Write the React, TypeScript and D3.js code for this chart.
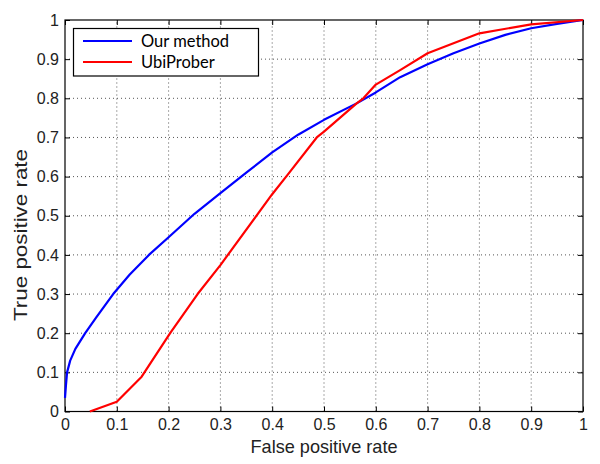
import React, { useEffect, useRef } from 'react';
import * as d3 from 'd3';

// ROC points: [false positive rate, true positive rate]
const ourMethod: [number, number][] = [
  [0, 0.035], [0.002, 0.07], [0.004, 0.1], [0.01, 0.13], [0.02, 0.16],
  [0.039, 0.2], [0.06, 0.24], [0.093, 0.3], [0.125, 0.35], [0.162, 0.4],
  [0.2, 0.445], [0.25, 0.505], [0.3, 0.558], [0.35, 0.61], [0.4, 0.662],
  [0.45, 0.707], [0.5, 0.745], [0.563, 0.787], [0.6, 0.815], [0.647, 0.854],
  [0.7, 0.887], [0.75, 0.915], [0.8, 0.94], [0.85, 0.962], [0.9, 0.979],
  [0.95, 0.99], [1, 1],
];

const ubiProber: [number, number][] = [
  [0.048, 0], [0.1, 0.025], [0.148, 0.089], [0.203, 0.2], [0.256, 0.3],
  [0.3, 0.374], [0.4, 0.555], [0.43, 0.605], [0.486, 0.7], [0.5, 0.715],
  [0.563, 0.787], [0.576, 0.8], [0.6, 0.835], [0.647, 0.872], [0.7, 0.915],
  [0.8, 0.966], [0.9, 0.989], [1, 1],
];

const ticks = [0, 0.1, 0.2, 0.3, 0.4, 0.5, 0.6, 0.7, 0.8, 0.9, 1];
const seriesNames = ['Our method', 'UbiProber'];
const seriesColors = ['#0000ff', '#ff0000'];

const App = () => {
  const svgRef = useRef<SVGSVGElement>(null);

  useEffect(() => {
    const width = 600;
    const height = 464;
    const marginLeft = 65;
    const marginRight = 17;
    const marginTop = 20;
    const marginBottom = 52.5;
    const font = 'Liberation Sans, Arial, sans-serif';

    const x = d3.scaleLinear().domain([0, 1]).range([marginLeft, width - marginRight]);
    const y = d3.scaleLinear().domain([0, 1]).range([height - marginBottom, marginTop]);

    const svg = d3.select(svgRef.current)
      .attr('width', width)
      .attr('height', height)
      .attr('viewBox', [0, 0, width, height].join(' '));
    svg.selectAll('*').remove();

    svg.append('rect').attr('width', width).attr('height', height).attr('fill', '#fff');

    // dotted grid
    const grid = svg.append('g')
      .attr('stroke', '#555')
      .attr('stroke-width', 1)
      .attr('stroke-dasharray', '1,3');
    grid.selectAll('line.v')
      .data(ticks.slice(1, -1))
      .enter().append('line')
      .attr('x1', d => x(d)).attr('x2', d => x(d))
      .attr('y1', y(0)).attr('y2', y(1));
    grid.selectAll('line.h')
      .data(ticks.slice(1, -1))
      .enter().append('line')
      .attr('y1', d => y(d)).attr('y2', d => y(d))
      .attr('x1', x(0)).attr('x2', x(1));

    const fmt = (d: d3.NumberValue) => String(+d);
    const styleAxis = (g: d3.Selection<SVGGElement, unknown, null, undefined>) => {
      g.select('.domain').remove();
      g.selectAll('line').attr('stroke', '#000');
      g.selectAll('text')
        .attr('fill', '#222')
        .attr('font-family', font)
        .attr('font-size', 16);
    };

    svg.append('g')
      .attr('transform', `translate(0,${y(0)})`)
      .call(d3.axisBottom(x).tickValues(ticks).tickFormat(fmt).tickSize(-5).tickPadding(7))
      .call(styleAxis);
    svg.append('g')
      .attr('transform', `translate(0,${y(1)})`)
      .call(d3.axisTop(x).tickValues(ticks).tickFormat(() => '').tickSize(-5))
      .call(styleAxis);
    svg.append('g')
      .attr('transform', `translate(${x(0)},0)`)
      .call(d3.axisLeft(y).tickValues(ticks).tickFormat(fmt).tickSize(-5).tickPadding(6))
      .call(styleAxis);
    svg.append('g')
      .attr('transform', `translate(${x(1)},0)`)
      .call(d3.axisRight(y).tickValues(ticks).tickFormat(() => '').tickSize(-5))
      .call(styleAxis);

    // plot box
    svg.append('rect')
      .attr('x', x(0)).attr('y', y(1))
      .attr('width', x(1) - x(0)).attr('height', y(0) - y(1))
      .attr('fill', 'none').attr('stroke', '#000').attr('stroke-width', 1.2);

    const line = d3.line<[number, number]>()
      .x(d => x(d[0]))
      .y(d => y(d[1]));

    [ourMethod, ubiProber].forEach((data, i) => {
      svg.append('path')
        .datum(data)
        .attr('fill', 'none')
        .attr('stroke', seriesColors[i])
        .attr('stroke-width', 2.2)
        .attr('stroke-linejoin', 'round')
        .attr('d', line);
    });

    // axis labels
    svg.append('text')
      .attr('x', (x(0) + x(1)) / 2)
      .attr('y', 453)
      .attr('text-anchor', 'middle')
      .attr('font-family', font)
      .attr('font-size', 19)
      .attr('textLength', 147)
      .attr('lengthAdjust', 'spacingAndGlyphs')
      .attr('fill', '#222')
      .text('False positive rate');
    svg.append('text')
      .attr('transform', `translate(27,235) rotate(-90)`)
      .attr('text-anchor', 'middle')
      .attr('font-family', font)
      .attr('font-size', 18)
      .attr('textLength', 172)
      .attr('lengthAdjust', 'spacingAndGlyphs')
      .attr('fill', '#222')
      .text('True positive rate');

    // legend
    const legend = svg.append('g');
    legend.append('rect')
      .attr('x', 73.5).attr('y', 28.5)
      .attr('width', 185).attr('height', 47.5)
      .attr('fill', '#fff').attr('stroke', '#000').attr('stroke-width', 1.2);
    seriesNames.forEach((name, i) => {
      const ly = 41 + i * 21;
      legend.append('line')
        .attr('x1', 83).attr('x2', 132)
        .attr('y1', ly).attr('y2', ly)
        .attr('stroke', seriesColors[i]).attr('stroke-width', 2.2);
      legend.append('text')
        .attr('x', 141).attr('y', ly + 6)
        .attr('font-family', 'Lato, Open Sans, sans-serif')
        .attr('font-size', 16.5)
        .attr('fill', '#000')
        .text(name);
    });
  }, []);

  return (
    <div style={{ position: 'absolute', left: 0, top: 0 }}>
      <svg ref={svgRef}></svg>
    </div>
  );
};

export default App;
